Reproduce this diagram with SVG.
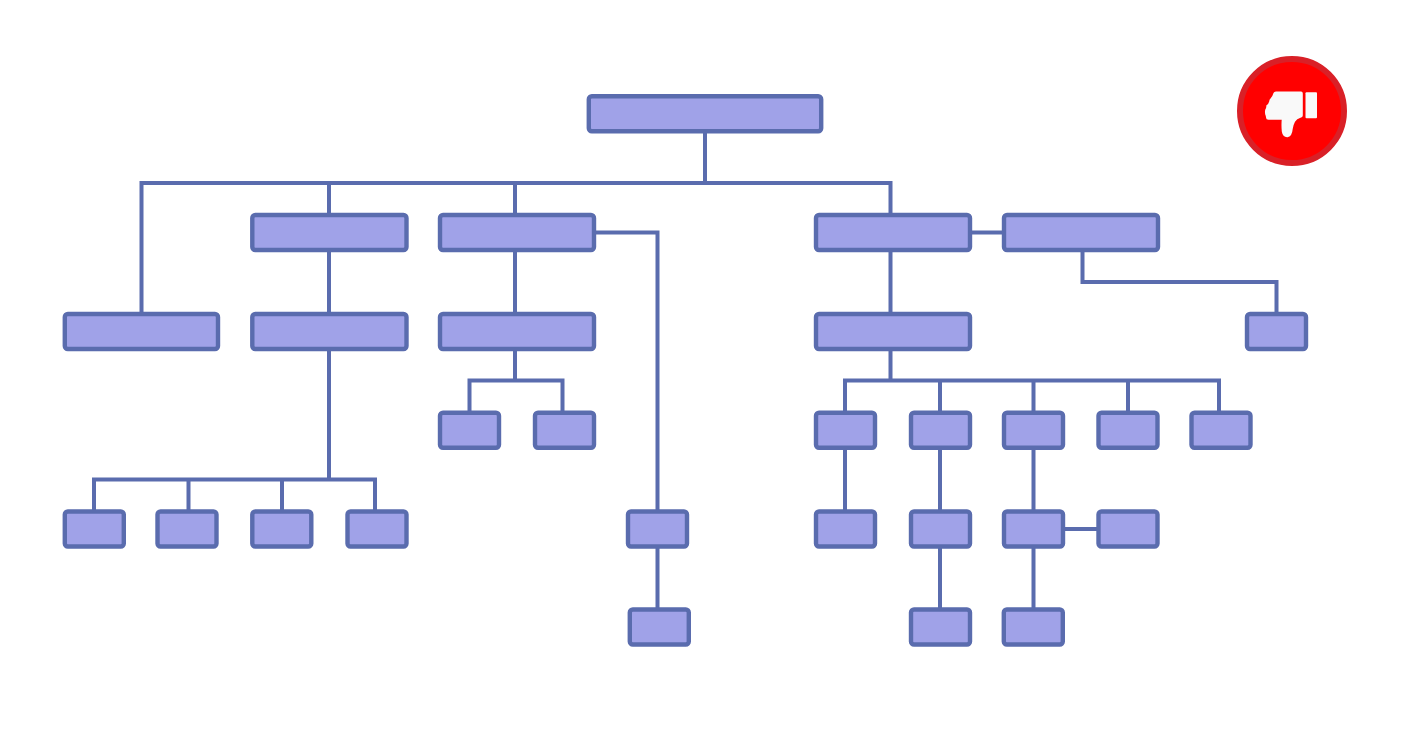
<svg xmlns="http://www.w3.org/2000/svg" width="1401" height="740" viewBox="0 0 1401 740">
<style>
.n{fill:#a0a2e8;stroke:#5a6cae;stroke-width:4.4;}
.c{fill:none;stroke:#5a6cae;stroke-width:4;}
</style>
<rect width="1401" height="740" fill="#fff"/>
<g id="connectors">
<path class="c" d="M705 131V183M141.500 314V183H890.500V215M329 183V215M515 183V215"/>
<path class="c" d="M594 232.500H657.500V512M657.500 547V610"/>
<path class="c" d="M970 232.500H1004M1082.500 250V282H1276.500V314"/>
<path class="c" d="M329 250V314M329 349V479.500M94 512V479.500H375V512M188.500 479.500V512M282 479.500V512"/>
<path class="c" d="M515 250V314M515 349V380.500M469.500 413V380.500H562.500V413"/>
<path class="c" d="M890.500 250V314M890.500 349V380.500M845 413V380.500H1219V413M940 380.500V413M1033.500 380.500V413M1128 380.500V413"/>
<path class="c" d="M845 448V512M940 448V512M940 547V610M1033.500 448V512M1033.500 547V610M1063 529H1098"/>
</g>
<g id="n0"><rect class="n" x="588.800" y="96.300" width="232.400" height="35" rx="3"/></g>
<g id="n1"><rect class="n" x="252.300" y="215" width="154.200" height="35" rx="3"/></g>
<g id="n2"><rect class="n" x="440" y="215" width="154" height="35" rx="3"/></g>
<g id="n3"><rect class="n" x="816" y="215" width="154" height="35" rx="3"/></g>
<g id="n4"><rect class="n" x="1004" y="215" width="154" height="35" rx="3"/></g>
<g id="n5"><rect class="n" x="64.800" y="314" width="153.200" height="35" rx="3"/></g>
<g id="n6"><rect class="n" x="252.300" y="314" width="154.200" height="35" rx="3"/></g>
<g id="n7"><rect class="n" x="440" y="314" width="154" height="35" rx="3"/></g>
<g id="n8"><rect class="n" x="816" y="314" width="154" height="35" rx="3"/></g>
<g id="n9"><rect class="n" x="1247" y="314" width="59" height="35" rx="3"/></g>
<g id="n10"><rect class="n" x="440" y="412.700" width="59" height="35" rx="3"/></g>
<g id="n11"><rect class="n" x="535" y="412.700" width="59" height="35" rx="3"/></g>
<g id="n12"><rect class="n" x="816" y="412.700" width="59" height="35" rx="3"/></g>
<g id="n13"><rect class="n" x="911" y="412.700" width="59" height="35" rx="3"/></g>
<g id="n14"><rect class="n" x="1004" y="412.700" width="59" height="35" rx="3"/></g>
<g id="n15"><rect class="n" x="1098.500" y="412.700" width="59" height="35" rx="3"/></g>
<g id="n16"><rect class="n" x="1191.500" y="412.700" width="59" height="35" rx="3"/></g>
<g id="n17"><rect class="n" x="64.800" y="511.500" width="59" height="35" rx="3"/></g>
<g id="n18"><rect class="n" x="157.500" y="511.500" width="59" height="35" rx="3"/></g>
<g id="n19"><rect class="n" x="252.300" y="511.500" width="59" height="35" rx="3"/></g>
<g id="n20"><rect class="n" x="347.500" y="511.500" width="59" height="35" rx="3"/></g>
<g id="n21"><rect class="n" x="628" y="511.500" width="59" height="35" rx="3"/></g>
<g id="n22"><rect class="n" x="816" y="511.500" width="59" height="35" rx="3"/></g>
<g id="n23"><rect class="n" x="911" y="511.500" width="59" height="35" rx="3"/></g>
<g id="n24"><rect class="n" x="1004" y="511.500" width="59" height="35" rx="3"/></g>
<g id="n25"><rect class="n" x="1098.500" y="511.500" width="59" height="35" rx="3"/></g>
<g id="n26"><rect class="n" x="629.800" y="609.500" width="59" height="35" rx="3"/></g>
<g id="n27"><rect class="n" x="911" y="609.500" width="59" height="35" rx="3"/></g>
<g id="n28"><rect class="n" x="1003.800" y="609.500" width="59" height="35" rx="3"/></g>
<g id="badge">
<circle cx="1292" cy="111" r="52" fill="#ff0000" stroke="#d92027" stroke-width="6"/>
<rect x="1305.500" y="92.300" width="11.500" height="26" rx="1" fill="#f9f9f9"/>
<path fill="#f9f9f9" d="M1273.500 93Q1274 91.500 1276 91.500H1301Q1302.800 91.500 1302.800 93.500V115.500Q1302.800 117.300 1300.500 117.700Q1296.800 118.500 1295 121.700Q1293.200 125 1292.700 129Q1292 136.800 1287.500 137.200Q1282.800 137.500 1281.800 131.500Q1281.200 125.500 1281.700 119.800H1268.500Q1266 119.800 1266 117.500Q1266 115.800 1265.300 114.800Q1264.600 112 1265.300 109.500Q1266.500 107.800 1266.300 105.500Q1268.600 104 1269.200 101.500Q1269.300 99.500 1270.500 98.500Q1272.500 96.500 1273.500 93Z"/>
</g>
</svg>
